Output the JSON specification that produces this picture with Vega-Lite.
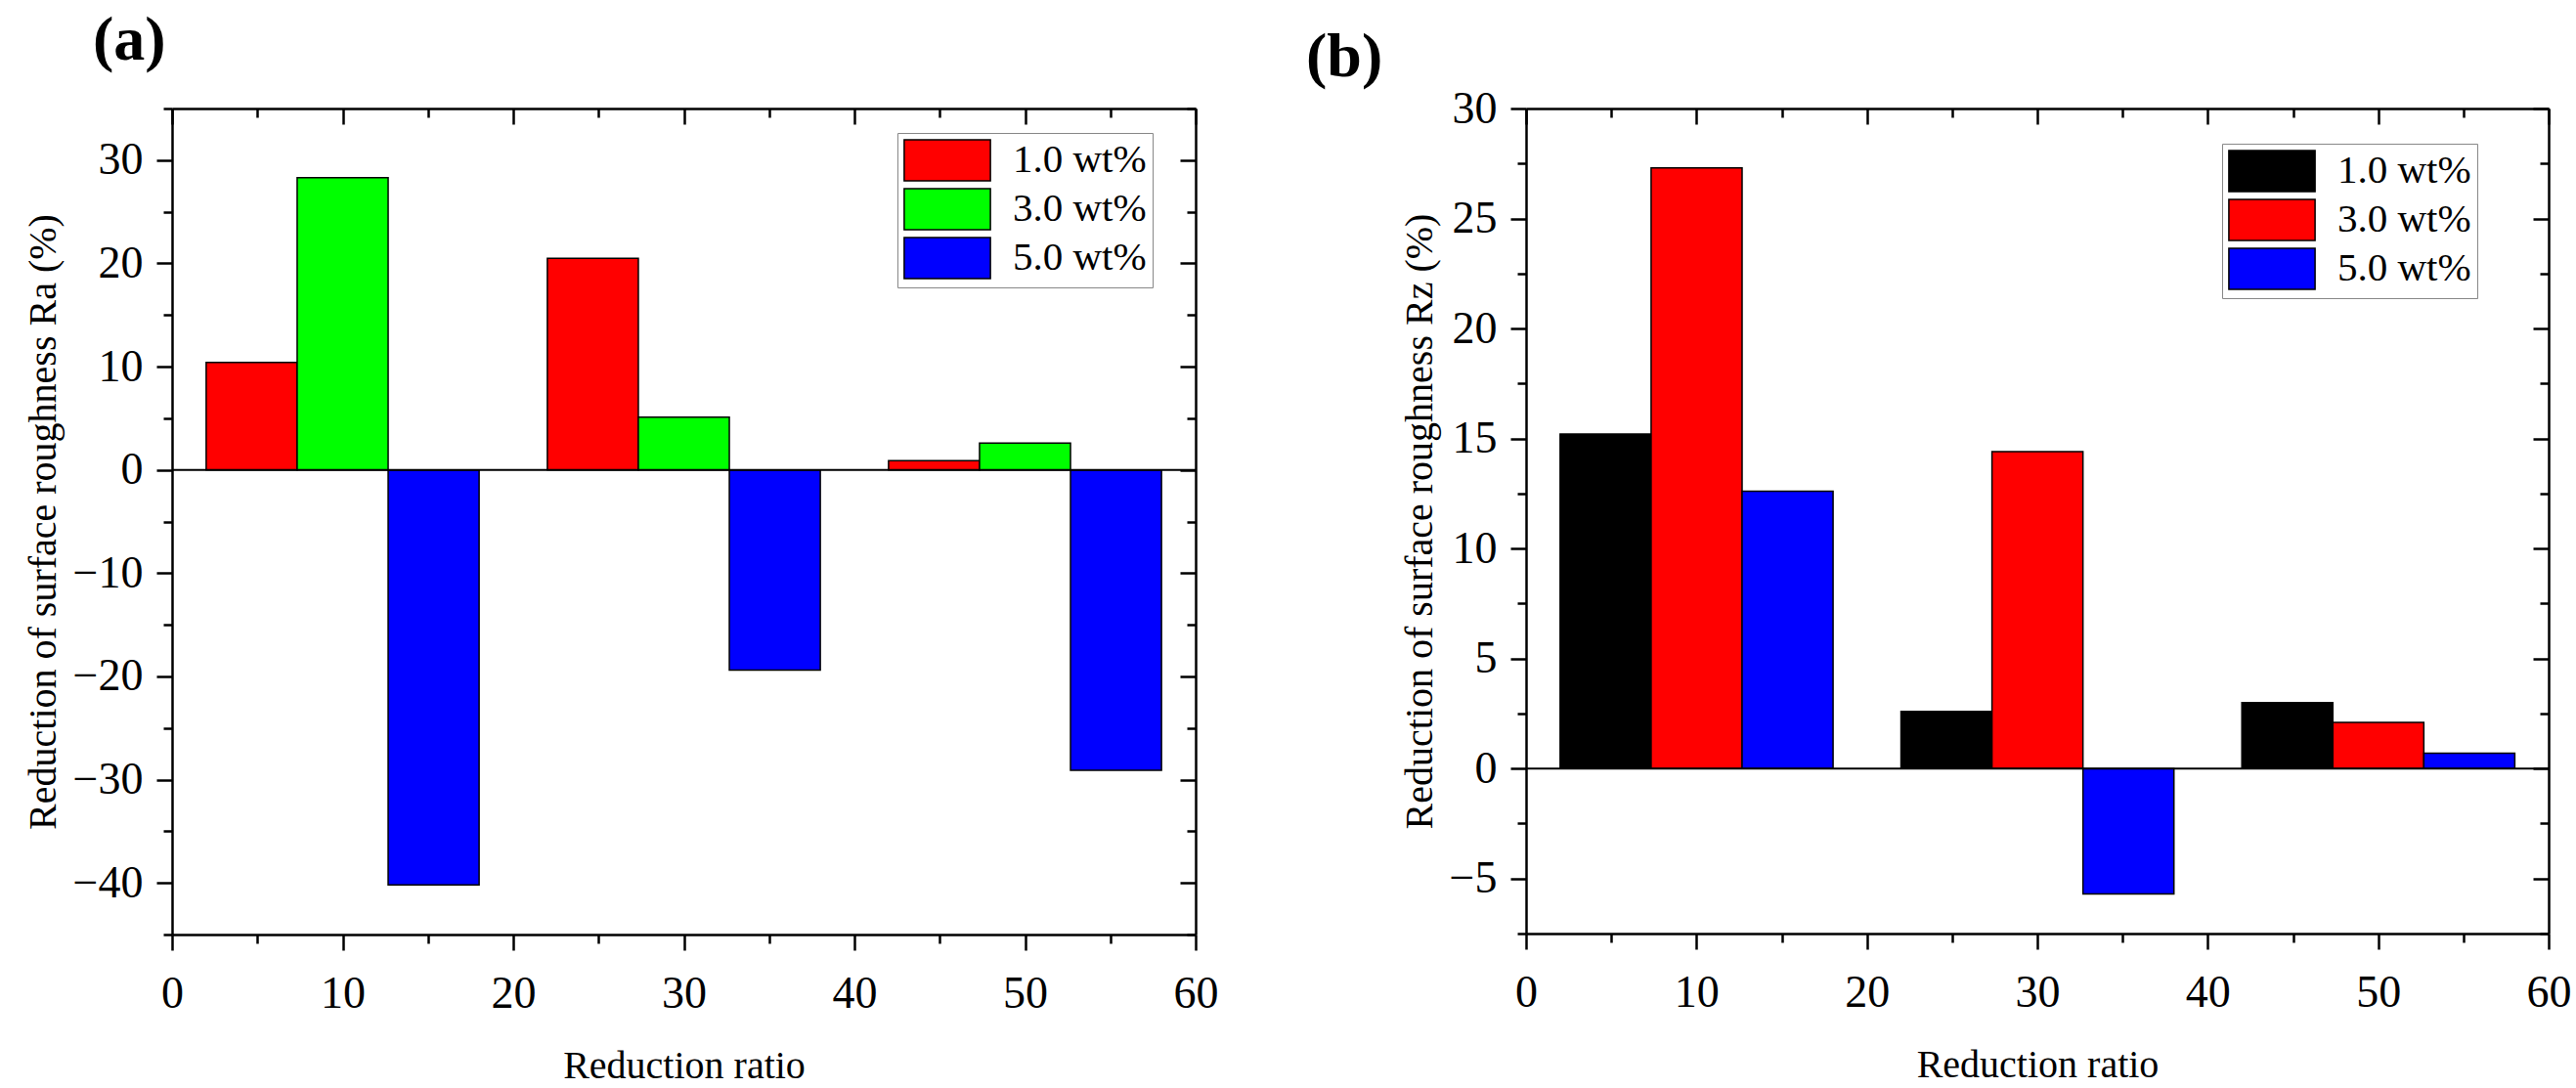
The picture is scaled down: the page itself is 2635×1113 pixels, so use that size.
{
  "$schema": "https://vega.github.io/schema/vega-lite/v6.json",
  "padding": {"left": 24, "top": 10, "right": 5, "bottom": 5},
  "spacing": 90,
  "config": {
    "view": {"stroke": null},
    "font": "Liberation Serif",
    "axis": {
      "labelFont": "Liberation Serif", "titleFont": "Liberation Serif",
      "labelColor": "black", "titleColor": "black", "domainColor": "black", "tickColor": "black",
      "titleFontWeight": "normal", "grid": false, "labelOverlap": false, "labelFlush": false, "labelBound": false,
      "domainWidth": 2.5, "tickWidth": 2.5, "labelFontSize": 46, "titleFontSize": 40
    },
    "legend": {"labelFont": "Liberation Serif", "labelColor": "black"}
  },
  "resolve": {"scale": {"color": "independent"}, "legend": {"color": "independent"}},
  "hconcat": [
    {
      "width": 1047, "height": 845,
      "title": {"text": "(a)", "anchor": "start", "frame": "group", "font": "Liberation Serif", "fontSize": 64, "fontWeight": "bold", "color": "black", "baseline": "alphabetic", "dx": -81, "dy": 37, "offset": 0},
      "resolve": {"scale": {"x": "independent"}, "axis": {"x": "independent", "y": "independent"}},
      "layer": [
        {
          "data": {"values": [
            {"ratio": 10, "conc": "1.0 wt%", "value": 10.4},
            {"ratio": 10, "conc": "3.0 wt%", "value": 28.3},
            {"ratio": 10, "conc": "5.0 wt%", "value": -40.2},
            {"ratio": 30, "conc": "1.0 wt%", "value": 20.5},
            {"ratio": 30, "conc": "3.0 wt%", "value": 5.1},
            {"ratio": 30, "conc": "5.0 wt%", "value": -19.4},
            {"ratio": 50, "conc": "1.0 wt%", "value": 0.9},
            {"ratio": 50, "conc": "3.0 wt%", "value": 2.6},
            {"ratio": 50, "conc": "5.0 wt%", "value": -29.1}
          ]},
          "mark": {"type": "bar", "stroke": "black", "strokeWidth": 1.5},
          "encoding": {
            "x": {"field": "ratio", "type": "ordinal", "scale": {"paddingInner": 0.2, "paddingOuter": 0.1}, "axis": null},
            "xOffset": {"field": "conc", "type": "nominal", "scale": {"paddingInner": 0, "paddingOuter": 0}},
            "y": {"field": "value", "type": "quantitative", "scale": {"domain": [-45, 35], "nice": false, "zero": false},
              "axis": {"orient": "left", "values": [-45, -40, -35, -30, -25, -20, -15, -10, -5, 0, 5, 10, 15, 20, 25, 30, 35],
                "tickSize": {"condition": {"test": "datum.value % 10 === 0", "value": 16}, "value": 9},
                "labelExpr": "datum.value % 10 === 0 ? datum.label : ''",
                "labelPadding": 14, "title": "Reduction of surface roughness Ra (%)", "titlePadding": 10}},
            "color": {"field": "conc", "type": "nominal",
              "scale": {"domain": ["1.0 wt%", "3.0 wt%", "5.0 wt%"], "range": ["#FF0000", "#00FF00", "#0000FF"]},
              "legend": {"orient": "none", "legendX": 742, "legendY": 25, "title": null,
                "symbolType": "M-2.1,-1H2.1V1H-2.1Z", "symbolSize": 1764, "symbolOffset": 23, "symbolStrokeColor": "black", "symbolStrokeWidth": 1.5,
                "labelFontSize": 41, "labelOffset": 45, "strokeColor": "#888888", "fillColor": "white", "padding": 6, "rowPadding": 2}}
          }
        },
        {
          "data": {"values": [{}]},
          "mark": {"type": "rule", "color": "black", "strokeWidth": 2},
          "encoding": {
            "x": {"datum": 0, "type": "quantitative", "scale": {"domain": [0, 60], "nice": false},
              "axis": {"orient": "bottom", "values": [0, 5, 10, 15, 20, 25, 30, 35, 40, 45, 50, 55, 60],
                "tickSize": {"condition": {"test": "datum.value % 10 === 0", "value": 16}, "value": 9},
                "labelExpr": "datum.value % 10 === 0 ? datum.label : ''",
                "labelPadding": 22, "title": "Reduction ratio", "titlePadding": 31}},
            "x2": {"datum": 60},
            "y": {"datum": 0, "type": "quantitative", "axis": null}
          }
        },
        {
          "data": {"values": [{}]},
          "mark": {"type": "rule", "opacity": 0},
          "encoding": {
            "x": {"datum": 0, "type": "quantitative", "scale": {"domain": [0, 60], "nice": false},
              "axis": {"orient": "top", "values": [0, 5, 10, 15, 20, 25, 30, 35, 40, 45, 50, 55, 60],
                "tickSize": {"condition": {"test": "datum.value % 10 === 0", "value": -16}, "value": -9},
                "labels": false, "title": null}},
            "y": {"datum": 0, "type": "quantitative",
              "axis": {"orient": "right", "values": [-45, -40, -35, -30, -25, -20, -15, -10, -5, 0, 5, 10, 15, 20, 25, 30, 35],
                "tickSize": {"condition": {"test": "datum.value % 10 === 0", "value": -16}, "value": -9},
                "labels": false, "title": null}}
          }
        }
      ]
    },
    {
      "width": 1046, "height": 844,
      "title": {"text": "(b)", "anchor": "start", "frame": "group", "font": "Liberation Serif", "fontSize": 64, "fontWeight": "bold", "color": "black", "baseline": "alphabetic", "dx": -225, "dy": 54, "offset": 0},
      "resolve": {"scale": {"x": "independent"}, "axis": {"x": "independent", "y": "independent"}},
      "layer": [
        {
          "data": {"values": [
            {"ratio": 10, "conc": "1.0 wt%", "value": 15.2},
            {"ratio": 10, "conc": "3.0 wt%", "value": 27.3},
            {"ratio": 10, "conc": "5.0 wt%", "value": 12.6},
            {"ratio": 30, "conc": "1.0 wt%", "value": 2.6},
            {"ratio": 30, "conc": "3.0 wt%", "value": 14.4},
            {"ratio": 30, "conc": "5.0 wt%", "value": -5.7},
            {"ratio": 50, "conc": "1.0 wt%", "value": 3.0},
            {"ratio": 50, "conc": "3.0 wt%", "value": 2.1},
            {"ratio": 50, "conc": "5.0 wt%", "value": 0.7}
          ]},
          "mark": {"type": "bar", "stroke": "black", "strokeWidth": 1.5},
          "encoding": {
            "x": {"field": "ratio", "type": "ordinal", "scale": {"paddingInner": 0.2, "paddingOuter": 0.1}, "axis": null},
            "xOffset": {"field": "conc", "type": "nominal", "scale": {"paddingInner": 0, "paddingOuter": 0}},
            "y": {"field": "value", "type": "quantitative", "scale": {"domain": [-7.5, 30], "nice": false, "zero": false},
              "axis": {"orient": "left", "values": [-7.5, -5, -2.5, 0, 2.5, 5, 7.5, 10, 12.5, 15, 17.5, 20, 22.5, 25, 27.5, 30],
                "tickSize": {"condition": {"test": "datum.value % 5 === 0", "value": 16}, "value": 9},
                "labelExpr": "datum.value % 5 === 0 ? datum.label : ''",
                "labelPadding": 14, "title": "Reduction of surface roughness Rz (%)", "titlePadding": 10}},
            "color": {"field": "conc", "type": "nominal",
              "scale": {"domain": ["1.0 wt%", "3.0 wt%", "5.0 wt%"], "range": ["#000000", "#FF0000", "#0000FF"]},
              "legend": {"orient": "none", "legendX": 712, "legendY": 36, "title": null,
                "symbolType": "M-2.1,-1H2.1V1H-2.1Z", "symbolSize": 1764, "symbolOffset": 23, "symbolStrokeColor": "black", "symbolStrokeWidth": 1.5,
                "labelFontSize": 41, "labelOffset": 45, "strokeColor": "#888888", "fillColor": "white", "padding": 6, "rowPadding": 2}}
          }
        },
        {
          "data": {"values": [{}]},
          "mark": {"type": "rule", "color": "black", "strokeWidth": 2},
          "encoding": {
            "x": {"datum": 0, "type": "quantitative", "scale": {"domain": [0, 60], "nice": false},
              "axis": {"orient": "bottom", "values": [0, 5, 10, 15, 20, 25, 30, 35, 40, 45, 50, 55, 60],
                "tickSize": {"condition": {"test": "datum.value % 10 === 0", "value": 16}, "value": 9},
                "labelExpr": "datum.value % 10 === 0 ? datum.label : ''",
                "labelPadding": 22, "title": "Reduction ratio", "titlePadding": 31}},
            "x2": {"datum": 60},
            "y": {"datum": 0, "type": "quantitative", "axis": null}
          }
        },
        {
          "data": {"values": [{}]},
          "mark": {"type": "rule", "opacity": 0},
          "encoding": {
            "x": {"datum": 0, "type": "quantitative", "scale": {"domain": [0, 60], "nice": false},
              "axis": {"orient": "top", "values": [0, 5, 10, 15, 20, 25, 30, 35, 40, 45, 50, 55, 60],
                "tickSize": {"condition": {"test": "datum.value % 10 === 0", "value": -16}, "value": -9},
                "labels": false, "title": null}},
            "y": {"datum": 0, "type": "quantitative",
              "axis": {"orient": "right", "values": [-7.5, -5, -2.5, 0, 2.5, 5, 7.5, 10, 12.5, 15, 17.5, 20, 22.5, 25, 27.5, 30],
                "tickSize": {"condition": {"test": "datum.value % 5 === 0", "value": -16}, "value": -9},
                "labels": false, "title": null}}
          }
        }
      ]
    }
  ]
}
